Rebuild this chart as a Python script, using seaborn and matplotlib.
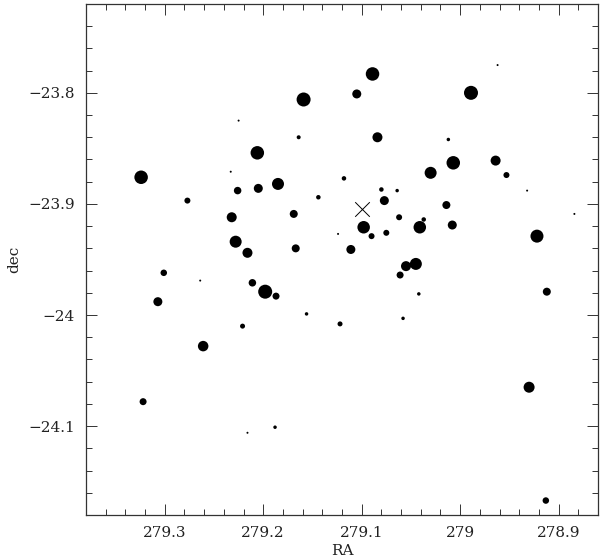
import numpy as np
import pandas as pd
import matplotlib
matplotlib.use("Agg")
import matplotlib.pyplot as plt
import seaborn as sns
from matplotlib.ticker import MultipleLocator, FuncFormatter

# Source positions (deg) and apparent dot diameter (px)
ra = [279.159, 279.225, 279.164, 279.206, 279.233, 279.324, 279.185, 279.205,
      279.226, 279.277, 279.169, 279.232, 279.228, 279.167, 279.216, 279.301,
      279.211, 279.264, 279.198, 279.187, 279.307, 279.221, 279.261, 279.322,
      279.216, 279.188, 279.089, 279.105, 278.989, 278.962, 279.084, 279.012,
      279.007, 278.964, 279.030, 278.953, 279.118, 278.932, 279.080, 279.064,
      279.144, 279.077, 278.884, 279.014, 279.062, 279.037, 279.098, 279.041,
      279.008, 279.124, 279.090, 279.075, 278.922, 279.111, 279.055, 279.045,
      279.061, 279.156, 279.122, 279.058, 279.042, 278.912, 278.930, 278.913]
dec = [-23.806, -23.825, -23.840, -23.854, -23.871, -23.876, -23.882, -23.886,
       -23.888, -23.897, -23.909, -23.912, -23.934, -23.940, -23.944, -23.962,
       -23.971, -23.969, -23.979, -23.983, -23.988, -24.010, -24.028, -24.078,
       -24.106, -24.101, -23.783, -23.801, -23.800, -23.775, -23.840, -23.842,
       -23.863, -23.861, -23.872, -23.874, -23.877, -23.888, -23.887, -23.888,
       -23.894, -23.897, -23.909, -23.901, -23.912, -23.914, -23.921, -23.921,
       -23.919, -23.927, -23.929, -23.926, -23.929, -23.941, -23.956, -23.954,
       -23.964, -23.999, -24.008, -24.003, -23.981, -23.979, -24.065, -24.167]
dot = [14, 2, 4, 13.5, 2, 13.5, 12, 9,
       7.5, 6, 8, 10, 12, 8, 10, 6.5,
       7.5, 2, 14, 7, 9, 5, 10.5, 7,
       2, 3.5, 13.5, 9, 14, 2, 10, 3.5,
       13.5, 10, 12, 6, 4.5, 2, 4.5, 3.5,
       4.5, 9, 2, 8, 6, 4.5, 12.5, 12.5,
       9, 2, 6, 6, 13, 9, 10, 12,
       7, 3.5, 5, 3.5, 3.5, 8, 11, 6.5]

center_ra = [279.100]
center_dec = [-23.905]

df = pd.DataFrame({"RA": ra, "dec": dec, "dot": dot})
df["area"] = (df["dot"] * 0.72) ** 2  # px diameter -> points^2 at 100 dpi

sns.set_style("ticks")
plt.rcParams["font.family"] = ["DejaVu Serif"]

fig = plt.figure(figsize=(6.0, 5.58), dpi=100)
ax = fig.add_axes([0.1433, 0.0771, 0.8534, 0.9158])

amin, amax = df["area"].min(), df["area"].max()
sns.scatterplot(data=df, x="RA", y="dec", size="area",
                sizes=(amin, amax), size_norm=(amin, amax),
                color="black", linewidth=0, legend=False, ax=ax)
sns.scatterplot(x=center_ra, y=center_dec, marker="x", s=110,
                color="black", linewidth=0.7, ax=ax)

ax.set_xlim(279.38, 278.86)
ax.set_ylim(-24.18, -23.72)

ax.xaxis.set_major_locator(MultipleLocator(0.1))
ax.xaxis.set_minor_locator(MultipleLocator(0.02))
ax.yaxis.set_major_locator(MultipleLocator(0.1))
ax.yaxis.set_minor_locator(MultipleLocator(0.02))

fmt = FuncFormatter(lambda v, p: ("%g" % round(v, 3)).replace("-", "\u2212"))
ax.xaxis.set_major_formatter(fmt)
ax.yaxis.set_major_formatter(fmt)

ax.tick_params(which="both", direction="in", top=True, right=True,
               width=0.7, colors="#333333", labelcolor="#222222", labelsize=11)
ax.tick_params(which="major", length=8, pad=8)
ax.tick_params(which="minor", length=4)
for sp in ax.spines.values():
    sp.set_linewidth(0.9)
    sp.set_color("#333333")

ax.set_xlabel("RA", fontsize=11, color="#222222", labelpad=3)
ax.set_ylabel("dec", fontsize=11, color="#222222", labelpad=5)

fig.savefig("out.png", dpi=100)
